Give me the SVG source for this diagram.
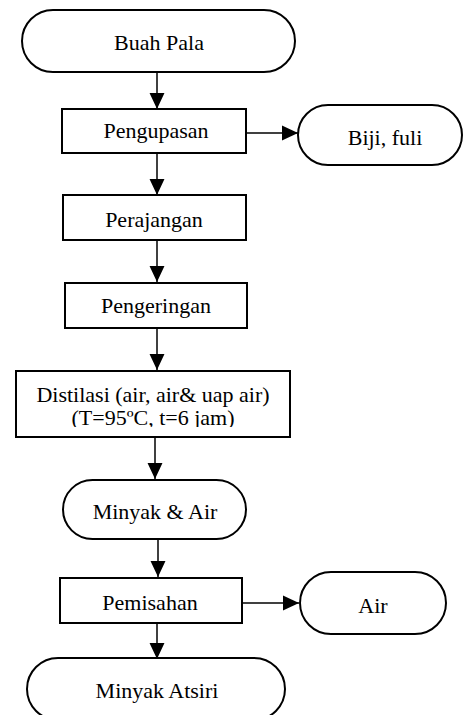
<svg xmlns="http://www.w3.org/2000/svg" width="465" height="715" viewBox="0 0 465 715">
<style>
.box{fill:#fff;stroke:#000;stroke-width:2}
.lbl{font-family:"Liberation Serif","Times New Roman",serif;font-size:22px;fill:#000;text-anchor:middle}
.ln{stroke:#000;stroke-width:1.5;fill:none}
</style>
<defs>
<marker id="ah" markerUnits="userSpaceOnUse" markerWidth="16" markerHeight="16" viewBox="0 0 15 14" refX="15" refY="7" orient="auto">
<path d="M0,0 L15,7 L0,14 Z" fill="#000"/>
</marker>
<clipPath id="clipD"><rect x="16" y="371" width="274" height="56"/></clipPath>
</defs>
<rect width="465" height="715" fill="#fff"/>
<g id="connectors">
<line class="ln" x1="157" y1="72" x2="157" y2="109" marker-end="url(#ah)"/>
<line class="ln" x1="246" y1="133" x2="298" y2="133" marker-end="url(#ah)"/>
<line class="ln" x1="157" y1="153" x2="157" y2="195" marker-end="url(#ah)"/>
<line class="ln" x1="157" y1="240" x2="157" y2="282" marker-end="url(#ah)"/>
<line class="ln" x1="157" y1="328" x2="157" y2="370" marker-end="url(#ah)"/>
<line class="ln" x1="155" y1="437" x2="155" y2="479" marker-end="url(#ah)"/>
<line class="ln" x1="158" y1="539" x2="158" y2="577" marker-end="url(#ah)"/>
<line class="ln" x1="242" y1="603" x2="299" y2="603" marker-end="url(#ah)"/>
<line class="ln" x1="157" y1="623" x2="157" y2="659" marker-end="url(#ah)"/>
</g>
<g id="buah-pala">
<rect class="box" x="22" y="10" width="273" height="62" rx="31"/>
<text class="lbl" x="159" y="50">Buah Pala</text>
</g>
<g id="pengupasan">
<rect class="box" x="62" y="109" width="184" height="44"/>
<text class="lbl" x="156" y="138">Pengupasan</text>
</g>
<g id="biji-fuli">
<rect class="box" x="298" y="105" width="164" height="60" rx="30"/>
<text class="lbl" x="385" y="145">Biji, fuli</text>
</g>
<g id="perajangan">
<rect class="box" x="63" y="195" width="183" height="45"/>
<text class="lbl" x="154" y="227">Perajangan</text>
</g>
<g id="pengeringan">
<rect class="box" x="65" y="283" width="182" height="45"/>
<text class="lbl" x="156" y="313">Pengeringan</text>
</g>
<g id="distilasi">
<rect class="box" x="16" y="371" width="274" height="66"/>
<g clip-path="url(#clipD)">
<text class="lbl" x="153" y="402">Distilasi (air, air&amp; uap air)</text>
<text class="lbl" x="153" y="425">(T=95ºC, t=6 jam)</text>
</g>
</g>
<g id="minyak-air">
<rect class="box" x="63" y="480" width="183" height="59" rx="29.5"/>
<text class="lbl" x="155" y="519">Minyak &amp; Air</text>
</g>
<g id="pemisahan">
<rect class="box" x="60" y="578" width="182" height="45"/>
<text class="lbl" x="150" y="610">Pemisahan</text>
</g>
<g id="air">
<rect class="box" x="300" y="572" width="146" height="62" rx="31"/>
<text class="lbl" x="373" y="613">Air</text>
</g>
<g id="minyak-atsiri">
<rect class="box" x="27" y="658" width="258" height="62" rx="31"/>
<text class="lbl" x="157" y="698">Minyak Atsiri</text>
</g>
</svg>
